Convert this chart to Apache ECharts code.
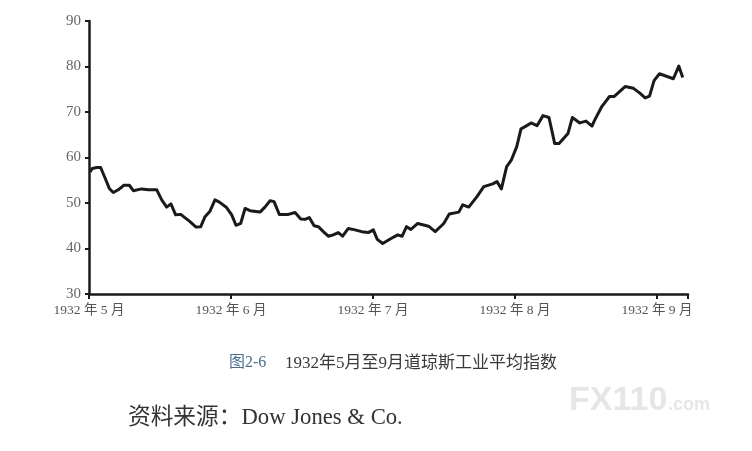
<!DOCTYPE html>
<html><head><meta charset="utf-8">
<script src="https://cdn.jsdelivr.net/npm/echarts@6/dist/echarts.min.js"></script>
<style>html,body{margin:0;padding:0;background:#fff;}#c{width:752px;height:451px;}</style>
</head><body><div id="c"></div>
<script>
// time position: months since 1932-05-01
var t = [0.007,0.023,0.054,0.082,0.113,0.143,0.171,0.206,0.246,0.284,0.312,0.371,0.418,0.477,0.512,0.547,0.577,0.610,0.646,0.711,0.754,0.787,0.817,0.852,0.887,0.918,0.969,1.005,1.035,1.068,1.099,1.134,1.204,1.239,1.275,1.303,1.340,1.404,1.451,1.491,1.521,1.551,1.585,1.615,1.650,1.685,1.720,1.755,1.786,1.826,1.873,1.920,1.967,2.002,2.030,2.068,2.127,2.174,2.205,2.236,2.267,2.315,2.391,2.438,2.498,2.537,2.604,2.632,2.674,2.732,2.780,2.843,2.873,2.904,2.941,2.975,3.012,3.042,3.077,3.113,3.155,3.197,3.239,3.279,3.310,3.373,3.404,3.456,3.500,3.542,3.559,3.611,3.665,3.697,3.775,3.834,3.877,3.916,3.947,3.979,4.017,4.115,4.153,4.181];
var dji = [56.8,57.6,57.8,57.8,55.5,53.2,52.3,52.9,53.9,53.9,52.7,53.1,52.9,52.9,50.7,49.1,49.8,47.4,47.5,45.9,44.7,44.8,47.0,48.2,50.7,50.2,49.0,47.4,45.1,45.5,48.8,48.3,48.0,49.1,50.5,50.3,47.5,47.5,47.9,46.5,46.4,46.8,45.0,44.8,43.7,42.7,43.0,43.5,42.7,44.4,44.1,43.7,43.5,44.1,42.0,41.1,42.2,43.0,42.7,44.8,44.2,45.5,44.9,43.7,45.5,47.6,48.0,49.6,49.1,51.4,53.6,54.2,54.7,53.1,58.0,59.5,62.4,66.3,66.9,67.6,67.0,69.2,68.8,63.1,63.1,65.3,68.8,67.6,68.0,66.9,68.1,71.2,73.4,73.4,75.6,75.2,74.2,73.1,73.5,76.9,78.4,77.3,80.1,77.6];
var monthTicks = ['1932 年 5 月','1932 年 6 月','1932 年 7 月','1932 年 8 月','1932 年 9 月'];
var yTicks = [30,40,50,60,70,80,90];
var caption = '1932年5月至9月道琼斯工业平均指数';
var figNo = '图2-6';
var source = '资料来源：Dow Jones & Co.';

var pts = t.map(function(v,i){return [v,dji[i]];});
var serif = '"Liberation Serif","DejaVu Serif","Noto Sans CJK SC",serif';
var chart = echarts.init(document.getElementById('c'));
chart.setOption({
  animation:false,
  backgroundColor:'#fff',
  grid:{left:89,right:64,top:21,bottom:157,containLabel:false},
  xAxis:{type:'value',min:0,max:4.218,interval:1,
    axisLine:{show:true,lineStyle:{color:'#1a1a1a',width:2.5}},
    axisTick:{show:true,length:5,lineStyle:{color:'#1a1a1a',width:2}},
    splitLine:{show:false},
    axisLabel:{margin:10,color:'#555',fontFamily:serif,fontSize:13.5,
      formatter:function(v){var i=Math.round(v);return (Math.abs(v-i)<1e-6&&monthTicks[i])?monthTicks[i]:'';}}
  },
  yAxis:{type:'value',min:yTicks[0],max:yTicks[yTicks.length-1],interval:10,
    axisLine:{show:true,lineStyle:{color:'#1a1a1a',width:2.5}},
    axisTick:{show:true,length:4,lineStyle:{color:'#1a1a1a',width:2}},
    splitLine:{show:false},
    axisLabel:{margin:8,color:'#666',fontFamily:serif,fontSize:15}
  },
  series:[{type:'line',data:pts,showSymbol:false,smooth:false,clip:false,
    lineStyle:{color:'#1a1a1a',width:3,join:'round'}}],
  graphic:[
    {type:'text',left:229,top:355,style:{text:figNo,fill:'#4a6f8c',font:'16px '+serif}},
    {type:'text',left:285,top:355,style:{text:caption,fill:'#3a3a3a',font:'17px '+serif}},
    {type:'text',left:128,top:407,style:{text:source,fill:'#333',font:'22.7px '+serif}},
    {type:'text',left:569,top:384,style:{text:'FX110',fill:'#e6e6e6',font:'bold 34px "Liberation Sans",sans-serif'}},
    {type:'text',left:668,top:396,style:{text:'.com',fill:'#e6e6e6',font:'bold 18px "Liberation Sans",sans-serif'}}
  ]
});
</script></body></html>
